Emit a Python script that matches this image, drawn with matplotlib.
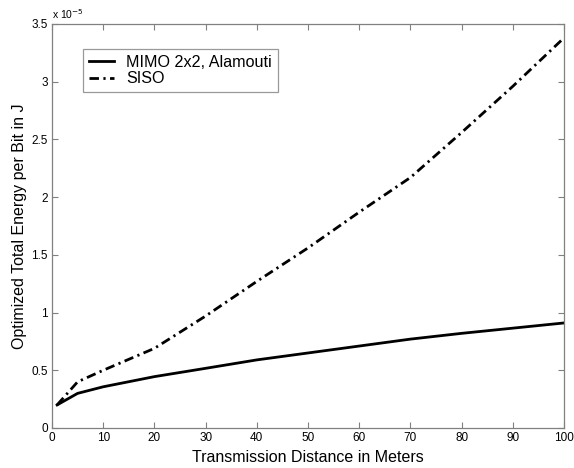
import matplotlib
matplotlib.use("Agg")
import matplotlib.pyplot as plt

plt.rcParams['font.family'] = ['Liberation Sans', 'DejaVu Sans']

# Distance in meters
distance = [1, 5, 10, 20, 30, 40, 50, 60, 70, 80, 90, 100]
# Energy per bit, in units of 1e-5 J
mimo = [0.20, 0.30, 0.357, 0.445, 0.517, 0.59, 0.65, 0.71, 0.77, 0.82, 0.865, 0.91]
siso = [0.20, 0.40, 0.50, 0.69, 0.97, 1.27, 1.56, 1.87, 2.17, 2.56, 2.96, 3.38]
labels = ["MIMO 2x2, Alamouti", "SISO"]
xticks = [0, 10, 20, 30, 40, 50, 60, 70, 80, 90, 100]
yticks = [0, 0.5, 1, 1.5, 2, 2.5, 3, 3.5]
ytick_labels = ["0", "0.5", "1", "1.5", "2", "2.5", "3", "3.5"]

W, H = 574, 468
fig = plt.figure(figsize=(W / 100, H / 100), dpi=100)
ax = fig.add_axes([52 / W, 1 - 428 / H, (564 - 52) / W, (428 - 24) / H])

ax.plot(distance, mimo, color='black', lw=2.0, label=labels[0])
ax.plot(distance, siso, color='black', lw=2.0, linestyle=(0, (3.4, 1.6, 0.8, 1.6)),
        label=labels[1])

ax.set_xlim(0, 100)
ax.set_ylim(0, 3.5)
ax.set_xticks(xticks)
ax.set_yticks(yticks)
ax.set_yticklabels(ytick_labels)
ax.tick_params(direction='in', top=True, right=True, length=4, width=0.8,
               colors='#808080', labelcolor='black', labelsize=8.5, pad=3)
for s in ax.spines.values():
    s.set_color('#808080')
    s.set_linewidth(0.9)

ax.set_xlabel("Transmission Distance in Meters", fontsize=11.5, labelpad=4)
ax.set_ylabel("Optimized Total Energy per Bit in J", fontsize=11.5, labelpad=3)

fig.text(52 / W, 1 - 14 / H, r"x 10$^{-5}$", fontsize=7.5, ha='left', va='center',
         math_fontfamily='dejavusans')

leg = ax.legend(loc='upper left', bbox_to_anchor=((83 - 52) / 512, (428 - 49) / 404),
                frameon=True, fancybox=False, fontsize=11.6, handlelength=1.55,
                borderpad=0.35, labelspacing=0.1, handletextpad=0.8, borderaxespad=0)
leg.get_frame().set_edgecolor('#808080')
leg.get_frame().set_linewidth(0.9)

fig.savefig("out.png", dpi=100)
